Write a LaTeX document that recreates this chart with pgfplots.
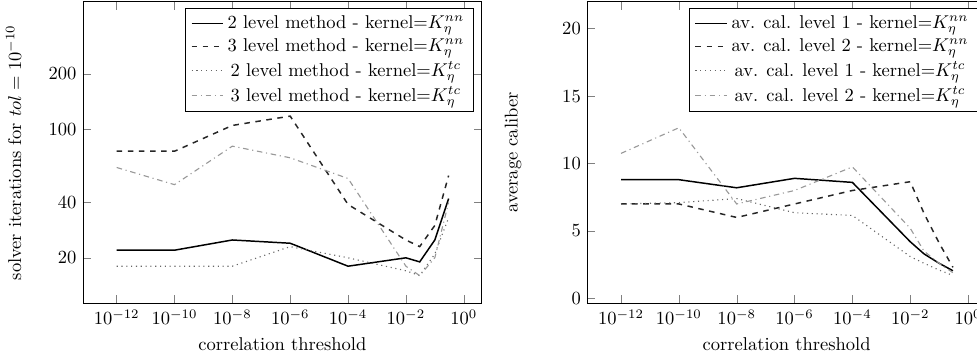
\documentclass[border=0pt]{standalone}
\usepackage{pgfplots}
\usepackage{pgfplotstable}
\pgfplotsset{compat=1.18}

\pgfplotstableread{
x      a    b    c    d
1e-12  22   76   18   62
1e-10  22   76   18   50
1e-8   25   105  18   81
1e-6   24   118  23   70
1e-4   18   39   20   54
1e-2   20   25   17   18
0.03   19   23   16   16
0.1    25   30   21   20
0.3    42   56   33   40
}\lefttab

\pgfplotstableread{
x      e     f     g     h
1e-12  8.8   7     7     10.75
1e-10  8.8   7     7.1   12.65
1e-8   8.2   6     7.4   7
1e-6   8.9   7     6.35  8
1e-4   8.6   8     6.15  9.75
1e-2   4.2   8.65  3.1   5.2
0.03   3.3   6.3   2.6   3.5
0.1    2.6   4.1   2.1   2.6
0.3    2.05  2.3   1.7   1.9
}\righttab

\begin{document}
\begin{tikzpicture}
\begin{axis}[
  scale only axis,
  width=215.3pt, height=162.9pt,
  xmode=log, ymode=log,
  xmin=6.84e-14, xmax=4.19,
  xtick={1e-12,1e-10,1e-8,1e-6,1e-4,1e-2,1},
  xminorticks=false, yminorticks=false,
  xlabel={correlation threshold},
  at={(0pt,0pt)}, anchor=south west,
  ymin=11.3, ymax=495,
  ytick={20,40,100,200}, yticklabels={20,40,100,200},
  ylabel={solver iterations for $tol=10^{-10}$},
  every axis y label/.append style={at={(axis description cs:-0.138,0.5)}},
]
\addplot[black, thick] table[x=x,y=a]{\lefttab};
\addlegendentry{2 level method - kernel=$K_\eta^{nn}$}
\addplot[black!85, thick, dashed] table[x=x,y=b]{\lefttab};
\addlegendentry{3 level method - kernel=$K_\eta^{nn}$}
\addplot[black!60, semithick, dotted] table[x=x,y=c]{\lefttab};
\addlegendentry{2 level method - kernel=$K_\eta^{tc}$}
\addplot[black!40, semithick, dash dot] table[x=x,y=d]{\lefttab};
\addlegendentry{3 level method - kernel=$K_\eta^{tc}$}
\end{axis}

\begin{axis}[
  scale only axis,
  width=215.3pt, height=162.9pt,
  xmode=log,
  xmin=6.84e-14, xmax=4.19,
  xtick={1e-12,1e-10,1e-8,1e-6,1e-4,1e-2,1},
  xminorticks=false, yminorticks=false,
  xlabel={correlation threshold},
  at={(272.3pt,0pt)}, anchor=south west,
  ymin=-0.37, ymax=22,
  ytick={0,5,10,15,20},
  ylabel={average caliber},
  every axis y label/.append style={at={(axis description cs:-0.1486,0.5)}},
]
\addplot[black, thick] table[x=x,y=e]{\righttab};
\addlegendentry{av. cal. level 1 - kernel=$K_\eta^{nn}$}
\addplot[black!85, thick, dashed] table[x=x,y=f]{\righttab};
\addlegendentry{av. cal. level 2 - kernel=$K_\eta^{nn}$}
\addplot[black!60, semithick, dotted] table[x=x,y=g]{\righttab};
\addlegendentry{av. cal. level 1 - kernel=$K_\eta^{tc}$}
\addplot[black!40, semithick, dash dot] table[x=x,y=h]{\righttab};
\addlegendentry{av. cal. level 2 - kernel=$K_\eta^{tc}$}
\end{axis}

\pgfresetboundingbox
\path[use as bounding box] (-44.8pt,-30.6pt) rectangle (482.7pt,163.8pt);
\end{tikzpicture}
\end{document}
